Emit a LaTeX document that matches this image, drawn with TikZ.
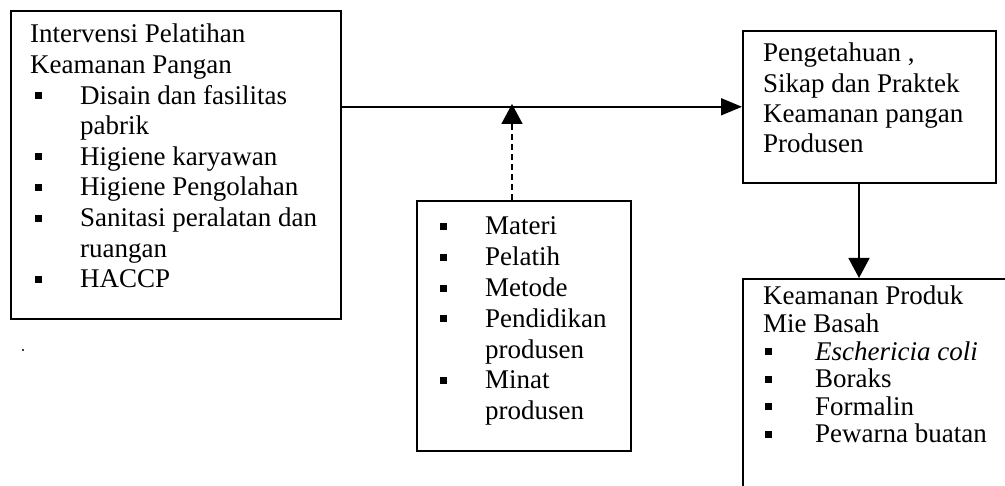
\documentclass[tikz,border=0pt]{standalone}
\usepackage{fontspec}
\setmainfont{Liberation Serif}
\usetikzlibrary{arrows.meta}
% bullet square: #1 = shift of the square, #2 = indent of the item text
\newcommand\itm[2]{\makebox[#2][l]{\hspace*{#1}\rule[5pt]{7pt}{7pt}}}
\begin{document}
\begin{tikzpicture}[x=1pt,y=-1pt,
  box/.style={draw, line width=1.6pt, rectangle, inner sep=0pt, anchor=north west},
  txt/.style={inner sep=0pt, anchor=base west},
  link/.style={line width=1.6pt},
  tipA/.style={-{Triangle[length=21pt,width=17pt]}},
  tipB/.style={-{Triangle[length=20pt,width=21pt]}},
]
\useasboundingbox (0,0) rectangle (1005,486);

% boxes
\node[box, minimum width=330pt, minimum height=308pt] (L) at (10,10) {};
\node[box, minimum width=253pt, minimum height=152pt] (R) at (742,30) {};
\node[box, minimum width=214pt, minimum height=250pt] (M) at (416,200) {};
\begin{scope}
  \clip (0,0) rectangle (1005,486);
  \node[box, minimum width=300pt, minimum height=260pt] (B) at (742,278) {};
\end{scope}

% texts
\node[txt] (Lt) at (30,43) {\parbox[t]{310pt}{\fontsize{27}{30.6}\selectfont
Intervensi Pelatihan\\
Keamanan Pangan\\
\itm{5pt}{50pt}Disain dan fasilitas\\
\hspace*{50pt}pabrik\\
\itm{5pt}{50pt}Higiene karyawan\\
\itm{5pt}{50pt}Higiene Pengolahan\\
\itm{5pt}{50pt}Sanitasi peralatan dan\\
\hspace*{50pt}ruangan\\
\itm{5pt}{50pt}HACCP}};

\node[txt] (Mt) at (440,235) {\parbox[t]{185pt}{\fontsize{27}{30.8}\selectfont
\itm{0pt}{45pt}Materi\\
\itm{0pt}{45pt}Pelatih\\
\itm{0pt}{45pt}Metode\\
\itm{0pt}{45pt}Pendidikan\\
\hspace*{45pt}produsen\\
\itm{0pt}{45pt}Minat\\
\hspace*{45pt}produsen}};

\node[txt] (Rt) at (763,62) {\parbox[t]{230pt}{\fontsize{27}{30.3}\selectfont
Pengetahuan ,\\
Sikap dan Praktek\\
Keamanan pangan\\
Produsen}};

\node[txt] (Bt) at (763,305) {\parbox[t]{240pt}{\fontsize{27}{27.6}\selectfont
Keamanan Produk\\
Mie Basah\\
\itm{2pt}{52pt}\textit{Eschericia coli}\\
\itm{2pt}{52pt}Boraks\\
\itm{2pt}{52pt}Formalin\\
\itm{2pt}{52pt}Pewarna buatan}};

% connectors
\draw[link, tipA] (L.east |- R.west) -- (R.west);
\coordinate (J) at (512,104);
\draw[link, tipB, dash pattern=on 6pt off 4pt] (M.north -| J) -- (J);
\coordinate (S) at (859,182);
\draw[link, tipB] (S) -- (S |- B.north);

% small speck below the left box
\fill (23,350) circle (1.2pt);
\end{tikzpicture}
\end{document}
